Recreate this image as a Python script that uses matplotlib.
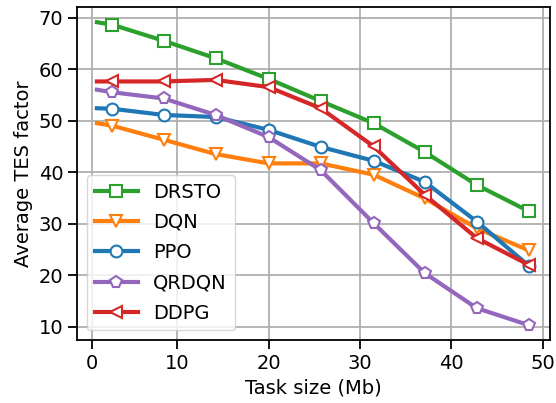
import matplotlib
matplotlib.use("Agg")
import matplotlib.pyplot as plt

# task sizes (Mb): first entry is the unmarked start of each curve
task_size = [1.2, 2.9, 8.5, 14.2, 20.0, 25.7, 31.5, 37.1, 42.8, 48.5]

drsto = [69.1, 68.6, 65.5, 62.1, 58.1, 53.8, 49.5, 43.9, 37.5, 32.4]
dqn = [49.5, 49.0, 46.3, 43.5, 41.7, 41.7, 39.5, 34.9, 29.1, 24.8]
ppo = [52.4, 52.3, 51.1, 50.7, 48.2, 44.9, 42.2, 38.1, 30.4, 21.8]
qrdqn = [56.0, 55.5, 54.3, 51.1, 46.8, 40.4, 30.1, 20.4, 13.6, 10.3]
ddpg = [57.6, 57.6, 57.6, 57.9, 56.5, 52.4, 45.0, 35.6, 27.2, 22.0]

xtick_pos = [0.7, 10, 20, 30, 40, 50]
xtick_labels = ["0", "10", "20", "30", "40", "50"]

series = [
    ("DRSTO", drsto, "tab:green", "s"),
    ("DQN", dqn, "tab:orange", "v"),
    ("PPO", ppo, "tab:blue", "o"),
    ("QRDQN", qrdqn, "tab:purple", "p"),
    ("DDPG", ddpg, "tab:red", "<"),
]

plt.rcParams["font.size"] = 14

fig = plt.figure(figsize=(5.56, 4.03), dpi=100)
ax = fig.add_axes([0.139, 0.156, 0.850, 0.826])

for name, vals, color, marker in series:
    ax.plot(task_size, vals, color=color, marker=marker, lw=3,
            markersize=8.5, markerfacecolor="white", markeredgewidth=1.5,
            markevery=list(range(1, len(task_size))), label=name)

ax.set_xlim(-0.95, 50.8)
ax.set_ylim(7.4, 72.0)
ax.set_xticks(xtick_pos)
ax.set_xticklabels(xtick_labels)
ax.set_yticks([10, 20, 30, 40, 50, 60, 70])
ax.tick_params(length=6.5, width=1.3)
ax.grid(True, color="#b0b0b0", lw=1.3)
ax.set_axisbelow(True)
for sp in ax.spines.values():
    sp.set_linewidth(1.3)
ax.set_xlabel("Task size (Mb)")
ax.set_ylabel("Average TES factor")
ax.legend(loc="lower left", handlelength=2.2, labelspacing=0.58)

fig.savefig("out.png", dpi=100)
